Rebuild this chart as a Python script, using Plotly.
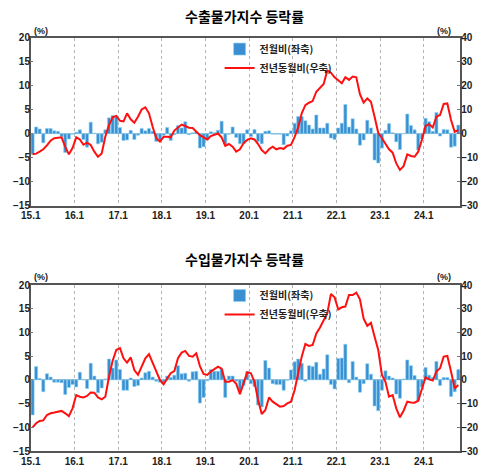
import plotly.graph_objects as go

# 월별 기간: 2015.1 ~ 2024.10
months = [f"{y}-{m:02d}" for y in range(2015, 2025) for m in range(1, 13)][:118]
tick_vals = [f"{y}-01-01" for y in range(2015, 2025)]
tick_labels = ["15.1", "16.1", "17.1", "18.1", "19.1", "20.1", "21.1", "22.1", "23.1", "24.1"]

# 수출물가지수: 전월비(좌축, %), 전년동월비(우축, %)
exp_mom = [
    -4.3, 1.4, 1.0, -1.9, 1.1, 1.1, 0.6, 0.5, -0.6, -3.9, -1.1, -0.1,
    0.3, 0.8, -1.2, -2.8, 2.4, 0.1, -2.1, -1.8, 0.8, 3.3, 3.8, 3.5,
    1.3, -1.4, -1.3, 0.7, -1.2, -0.3, 1.1, 0.6, 1.1, 0.5, -1.6, -1.5,
    -0.3, 1.3, -1.4, -0.2, 1.7, 1.2, 2.5, -0.2, 0.2, 0.4, -3.0, -2.7,
    -1.3, 0.4, 0.2, 0.7, 2.6, -2.2, -0.1, 1.4, -0.8, -2.1, -2.1, 0.8,
    -0.6, 0.9, -1.6, -2.1, 0.5, 0.6, -0.1, -0.1, -0.1, -2.3, -0.5, 0.6,
    2.2, 3.6, 3.6, 2.7, 1.8, 1.0, 3.9, 1.2, 1.2, 2.2, -0.9, -1.2,
    1.2, 2.2, 6.1, 1.4, 3.1, 1.0, -2.4, -1.3, 2.8, 1.2, -5.5, -6.1,
    -3.0, 0.7, 2.1, 0.2, -1.7, -3.3, 0.0, 4.1, 1.7, 0.8, -3.4, -1.1,
    3.2, 2.5, 0.5, 4.4, -0.5, 0.9, 0.8, -2.8, -2.6, 1.8,
]
exp_yoy = [
    -8.6, -8.3, -7.5, -6.5, -4.9, -2.9, -1.9, -1.7, -1.5, -5.5, -8.6, -6.0,
    -1.5, -2.4, -4.6, -3.7, -4.7, -7.5, -9.6, -8.2, -1.2, 3.6, 6.8, 7.4,
    5.4, 5.1, 8.5, 6.0, 4.6, 7.1, 10.1, 11.0, 8.5, 2.9, -1.9, -3.3,
    -1.3, -1.3, -1.5, 1.3, 2.5, 3.8, 3.2, 2.5, 2.4, 0.8, -0.6, -1.5,
    -2.4, -1.0, -0.6, 0.1, -1.5, -5.1, -4.3, -5.4, -7.5, -6.5, -4.0, -2.6,
    -1.9, -2.4, -4.3, -6.8, -8.2, -6.5, -5.4, -6.5, -6.0, -6.3, -5.0, -4.7,
    -1.3, 2.6, 8.5, 11.9, 12.9, 13.6, 17.5, 19.3, 20.7, 26.3, 25.4, 23.5,
    22.4, 21.0, 23.5, 22.4, 23.8, 23.5, 16.5, 12.9, 14.7, 13.3, 7.1, 0.4,
    -1.9, -4.0, -6.5, -7.9, -12.4, -15.1, -13.5, -8.6, -9.3, -9.6, -7.5, -2.6,
    3.2, 4.0, 2.6, 7.1, 7.8, 12.4, 12.6, 5.7, 0.8, 1.5,
]

# 수입물가지수: 전월비(좌축, %), 전년동월비(우축, %)
imp_mom = [
    -7.4, 2.8, 0.3, -2.5, 1.3, 0.6, -0.5, -0.5, -0.6, -3.1, -1.6, -1.0,
    -1.5, 1.6, 0.0, -1.8, 3.5, 0.8, -2.7, -1.7, 0.2, 4.4, 2.5, 4.2,
    2.2, -2.2, -2.2, 0.4, -1.4, -1.2, 0.4, 1.5, 1.8, 0.6, -0.3, -0.5,
    -0.5, 0.8, 0.5, 1.0, 3.0, 1.3, 1.4, -0.3, 1.7, 1.8, -4.9, -3.7,
    -0.2, 2.2, 1.8, 1.8, 2.3, -3.7, 0.8, 0.8, -0.3, -2.3, -1.2, 1.7,
    -0.8, -1.4, -5.3, -5.7, 4.1, 2.5, -0.8, -1.0, -1.0, -2.2, -0.1, 2.1,
    3.8, 4.4, 3.5, -0.3, 3.0, 2.8, 3.7, 1.2, 2.3, 5.3, -1.0, -1.9,
    4.5, 4.6, 7.5, -0.6, 3.9, 0.6, -2.6, -0.8, 3.4, 1.2, -5.5, -6.5,
    -2.2, 1.9, 0.8, 0.4, -3.0, -3.9, 0.2, 4.2, 3.0, 0.9, -4.3, -1.5,
    2.6, 1.0, 0.5, 3.9, -1.2, 0.5, 0.5, -3.5, -2.5, 2.2,
]
imp_yoy = [
    -20.0, -18.3, -17.3, -17.1, -14.8, -14.1, -13.8, -13.6, -13.1, -14.1, -15.3, -12.0,
    -6.4, -7.1, -7.4, -6.8, -5.3, -5.4, -7.4, -8.2, -7.1, 1.3, 8.1, 12.6,
    13.4, 9.1, 7.3, 9.5, 4.1, 2.1, 5.6, 9.1, 10.9, 7.0, 3.9, 0.0,
    -1.9, 0.6, 2.8, 3.7, 9.1, 11.5, 12.2, 10.1, 9.8, 11.2, 5.8, 2.5,
    2.1, 3.5, 4.4, 5.6, 4.7, -0.8, -0.8, -0.1, -1.7, -6.0, -1.5, 3.2,
    2.8, -0.8, -8.5, -14.4, -12.7, -7.4, -9.2, -10.2, -11.3, -11.0, -9.9, -9.2,
    -4.3, 2.8, 9.8, 15.1, 14.3, 14.7, 19.6, 22.1, 25.2, 28.1, 36.2, 34.8,
    29.7, 30.6, 30.9, 35.8, 35.8, 36.8, 34.0, 25.8, 22.8, 24.1, 18.2, 12.6,
    2.1, -0.8, -7.1, -6.4, -12.0, -15.8, -13.0, -9.2, -9.5, -9.6, -8.8, -4.3,
    1.1, 0.2, -0.3, 3.5, 4.9, 9.8, 10.1, 3.5, -3.6, -2.2,
]

BAR_COLOR = "#3A8FD2"
BAR_EDGE = "#8CD3F2"
LINE_COLOR = "#FF1010"
KR_FONT = "Noto Sans CJK KR"

fig = go.Figure()

# 상단: 수출
fig.add_trace(go.Bar(x=months, y=exp_mom, name="전월비(좌축)", xperiod="M1",
                     xperiodalignment="middle", marker=dict(color=BAR_COLOR, line=dict(color=BAR_EDGE, width=0.6)),
                     xaxis="x", yaxis="y", legend="legend"))
fig.add_trace(go.Scatter(x=months, y=exp_yoy, name="전년동월비(우축)", mode="lines", xperiod="M1",
                         xperiodalignment="middle", line=dict(color=LINE_COLOR, width=2),
                         xaxis="x", yaxis="y2", legend="legend"))

# 하단: 수입
fig.add_trace(go.Bar(x=months, y=imp_mom, name="전월비(좌축)", xperiod="M1",
                     xperiodalignment="middle", marker=dict(color=BAR_COLOR, line=dict(color=BAR_EDGE, width=0.6)),
                     xaxis="x2", yaxis="y3", legend="legend2"))
fig.add_trace(go.Scatter(x=months, y=imp_yoy, name="전년동월비(우축)", mode="lines", xperiod="M1",
                         xperiodalignment="middle", line=dict(color=LINE_COLOR, width=2),
                         xaxis="x2", yaxis="y4", legend="legend2"))

xdom = [0.063, 0.943]
top_dom = [0.566, 0.9205]
bot_dom = [0.0485, 0.3987]

tickfont = dict(family="Liberation Sans", size=10, color="#222", weight="bold")

xaxis_common = dict(
    type="date", range=["2015-01-01", "2024-11-01"], tickvals=tick_vals, ticktext=tick_labels,
    showgrid=True, gridcolor="#B5B5B5", griddash="dot", gridwidth=1,
    showline=True, linecolor="#555", linewidth=1.5, mirror=True, ticks="",
    tickfont=tickfont, domain=xdom, automargin=False,
)
left_common = dict(range=[-15, 20], dtick=5, showgrid=False, zeroline=True, zerolinecolor="#A9BCCB",
                   zerolinewidth=1, showline=True, linecolor="#555", linewidth=1.5, mirror=True,
                   ticks="inside", ticklen=3, tickcolor="#777", tickfont=tickfont, automargin=False,
                   ticklabelstandoff=-3)
right_common = dict(range=[-30, 40], dtick=10, showgrid=False, zeroline=False, side="right",
                    ticks="inside", ticklen=3, tickcolor="#777", tickfont=tickfont, automargin=False,
                    ticklabelstandoff=0)

legend_common = dict(x=0.45, xanchor="left", bgcolor="rgba(0,0,0,0)", tracegroupgap=0,
                     font=dict(family=KR_FONT, size=10, color="#222", weight="bold"), itemwidth=30)

fig.update_layout(
    width=488, height=474,
    margin=dict(l=0, r=0, t=0, b=0),
    paper_bgcolor="white", plot_bgcolor="white",
    barmode="relative", bargap=0.12,
    xaxis=dict(xaxis_common, anchor="y"),
    yaxis=dict(left_common, domain=top_dom, anchor="x"),
    yaxis2=dict(right_common, overlaying="y", anchor="x"),
    xaxis2=dict(xaxis_common, anchor="y3"),
    yaxis3=dict(left_common, domain=bot_dom, anchor="x2"),
    yaxis4=dict(right_common, overlaying="y3", anchor="x2"),
    legend=dict(legend_common, y=0.927, yanchor="top"),
    legend2=dict(legend_common, y=0.407, yanchor="top"),
    showlegend=True,
)

titles = [("수출물가지수 등락률", 16), ("수입물가지수 등락률", 259)]
for text, ypx in titles:
    fig.add_annotation(text=text, x=0.5, y=1 - ypx / 474, xref="paper", yref="paper",
                       yanchor="middle", showarrow=False,
                       font=dict(family=KR_FONT, size=14, color="#000", weight="bold"))

for ypx in (31, 277):
    fig.add_annotation(text="(%)", x=32 / 488, y=1 - ypx / 474, xref="paper", yref="paper", showarrow=False,
                       yanchor="middle", font=dict(family="Liberation Sans", size=9, color="#222", weight="bold"))
    fig.add_annotation(text="(%)", x=453 / 488, y=1 - ypx / 474, xref="paper", yref="paper", showarrow=False,
                       yanchor="middle", font=dict(family="Liberation Sans", size=9, color="#222", weight="bold"))

# 페이지 기본 여백(8px) 제거, 모드바 숨김
fig.write_html("out.html", config={"displayModeBar": False},
               post_script="document.body.style.margin='0';")
